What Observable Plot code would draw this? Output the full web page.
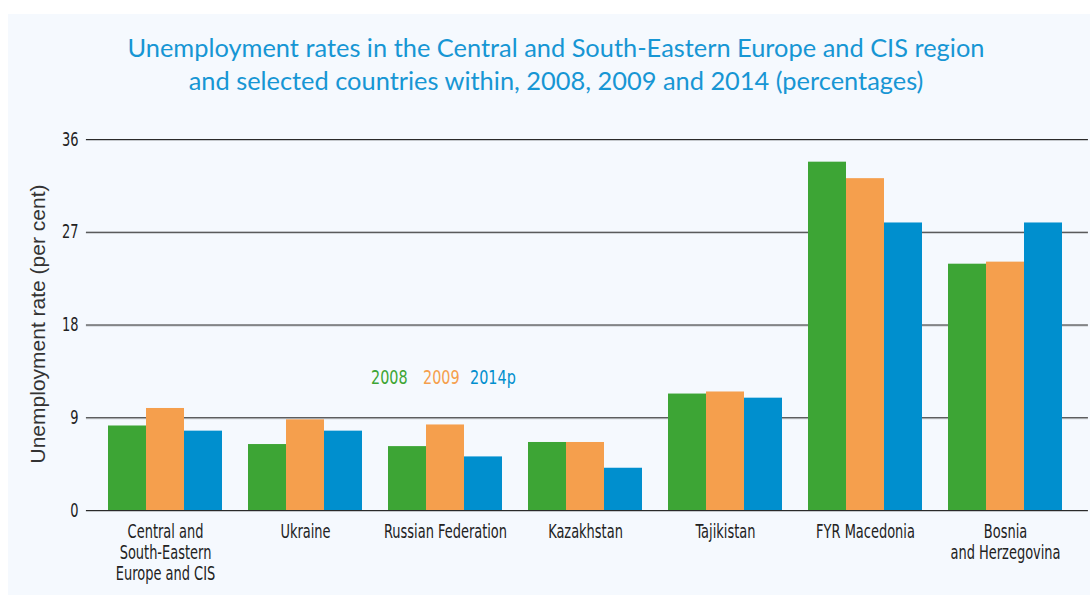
<!DOCTYPE html>
<html>
<head>
<meta charset="utf-8">
<script src="https://cdn.jsdelivr.net/npm/d3@7"></script>
<script src="https://cdn.jsdelivr.net/npm/@observablehq/plot@0.6"></script>
<style>
  html, body { margin: 0; padding: 0; background: #ffffff; width: 1090px; height: 597px; overflow: hidden; }
  #panel { position: absolute; left: 8px; top: 14px; width: 1082px; height: 581px; background: #f5f9fe; }
  #title { position: absolute; left: 22px; top: 31px; width: 1068px; text-align: center; color: #1796d4;
           font-family: Lato, "Open Sans", sans-serif; font-size: 25.4px; line-height: 33px; }
  #chart { position: absolute; left: 0; top: 120px; }
  #ylabel { position: absolute; left: 38px; top: 324px; transform: translate(-50%, -50%) rotate(-90deg);
            white-space: nowrap; font-family: "Liberation Sans", Arial, sans-serif; font-size: 21px; color: #333; }
  .leg { position: absolute; top: 365px; font-family: "DejaVu Sans Condensed", "DejaVu Sans", sans-serif;
         font-stretch: condensed; font-size: 20px; white-space: nowrap; transform: scaleX(0.8); transform-origin: 0 0; }
  .cond { font-family: "DejaVu Sans Condensed", "DejaVu Sans", sans-serif; font-stretch: condensed; }
</style>
</head>
<body>
<div id="panel"></div>
<div id="title">Unemployment rates in the Central and South-Eastern Europe and CIS region<br>and selected countries within, 2008, 2009 and 2014 (percentages)</div>
<div id="chart"></div>
<div id="ylabel">Unemployment rate (per cent)</div>
<div id="legend"></div>
<script>
const countries = ["Central and South-Eastern Europe and CIS", "Ukraine", "Russian Federation", "Kazakhstan", "Tajikistan", "FYR Macedonia", "Bosnia and Herzegovina"];
const countryLabels = ["Central and\nSouth-Eastern\nEurope and CIS", "Ukraine", "Russian Federation", "Kazakhstan", "Tajikistan", "FYR Macedonia", "Bosnia\nand Herzegovina"];
const years = ["2008", "2009", "2014p"];
const colors = ["#3da535", "#f59f4d", "#008fce"];
const v2008 = [8.2, 6.4, 6.2, 6.6, 11.3, 33.8, 23.9];
const v2009 = [9.9, 8.8, 8.3, 6.6, 11.5, 32.2, 24.1];
const v2014 = [7.7, 7.7, 5.2, 4.1, 10.9, 27.9, 27.9];
const yTicks = [0, 9, 18, 27, 36];

const series = [v2008, v2009, v2014];
const data = [];
countries.forEach((c, i) => years.forEach((yr, j) => data.push({country: c, year: yr, value: series[j][i]})));
const labelOf = new Map(countries.map((c, i) => [c, countryLabels[i]]));

const W = 1090, ML = 84, MR = 4;
const gridLen = W - ML - MR;
const padIn = 0.189, padOut = 0.157;
// the y axis sits at the left edge of the first facet; shift it back to the frame edge
const step = gridLen / (countries.length - padIn + 2 * padOut);
const facetOffset = padOut * step;
const SX = 0.76; // horizontal condensing of the axis text

const chart = Plot.plot({
  width: W,
  height: 470,
  marginLeft: ML,
  marginRight: MR,
  marginTop: 19,
  marginBottom: 80,
  style: {background: "transparent", color: "#222", fontFamily: "'DejaVu Sans Condensed', sans-serif"},
  fx: {domain: countries, paddingInner: padIn, paddingOuter: padOut, label: null, axis: null},
  x: {domain: years, padding: 0, axis: null},
  y: {domain: [0, 36], label: null, axis: null},
  color: {domain: years, range: colors},
  marks: [
    Plot.axisY(yTicks, {tickSize: -gridLen, tickFormat: () => "", stroke: "#c4c8cc", strokeWidth: 1, dx: -facetOffset, dy: 1, label: null}),
    Plot.axisY(yTicks, {tickSize: -gridLen, tickFormat: () => "", stroke: "#2a2a2a", strokeWidth: 1.2, dx: -facetOffset, label: null}),
    Plot.barY(data, {fx: "country", x: "year", y: "value", fill: "year"}),
    Plot.axisY(yTicks, {tickSize: 0, tickPadding: 8, dx: -facetOffset, fontSize: 19, label: null}),
    Plot.axisFx({anchor: "bottom", tickSize: 0, tickPadding: 13, fontSize: 19, lineHeight: 1.1, label: null, tickFormat: d => labelOf.get(d)})
  ]
});
// condense the text horizontally around each label's own anchor
chart.querySelectorAll("text").forEach(t => {
  t.classList.add("cond");
  const tr = t.getAttribute("transform") || "";
  t.setAttribute("transform", `${tr} scale(${SX},1)`);
});
document.getElementById("chart").appendChild(chart);

const legendLeft = [371, 423, 470];
const legend = document.getElementById("legend");
years.forEach((yr, j) => {
  const s = document.createElement("span");
  s.className = "leg";
  s.textContent = yr;
  s.style.color = colors[j];
  s.style.left = legendLeft[j] + "px";
  legend.appendChild(s);
});
</script>
</body>
</html>
